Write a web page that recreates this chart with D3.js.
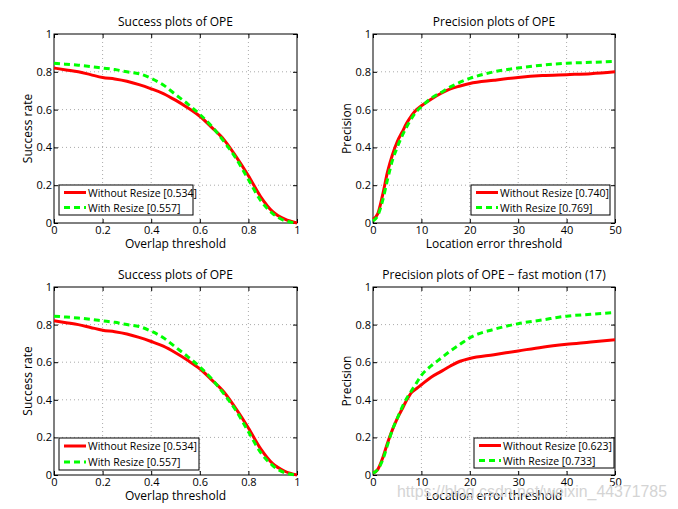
<!DOCTYPE html>
<html><head><meta charset="utf-8">
<script src="https://cdn.jsdelivr.net/npm/d3@7/dist/d3.min.js"></script>
<style>body{margin:0;background:#fff}svg{display:block}text{font-family:"Open Sans",sans-serif}</style>
</head><body><svg id="c" width="678" height="509"></svg>
<script>
// Success plots (overlap threshold)
const overlapX = [0,0.05,0.1,0.15,0.2,0.25,0.3,0.35,0.4,0.45,0.5,0.55,0.6,0.65,0.7,0.75,0.8,0.85,0.9,0.95,1];
const successWithout = [0.82,0.81,0.80,0.785,0.77,0.762,0.75,0.732,0.71,0.685,0.65,0.61,0.565,0.505,0.44,0.35,0.25,0.14,0.06,0.02,0];
const successWith = [0.845,0.84,0.835,0.828,0.82,0.812,0.80,0.79,0.765,0.73,0.68,0.63,0.575,0.51,0.43,0.34,0.23,0.12,0.05,0.012,0];
// Precision plots (location error threshold)
const errX = [0,1,2,3,4,5,6,7,8,9,10,12,14,16,18,20,25,30,35,40,45,50];
const precWithout = [0.02,0.05,0.15,0.27,0.36,0.43,0.48,0.53,0.57,0.60,0.62,0.655,0.685,0.71,0.725,0.738,0.755,0.77,0.78,0.785,0.79,0.80];
const precWith = [0.01,0.04,0.12,0.23,0.33,0.40,0.46,0.51,0.555,0.59,0.615,0.66,0.69,0.72,0.745,0.765,0.80,0.82,0.835,0.845,0.85,0.855];
const fastWithout = [0.01,0.03,0.09,0.17,0.24,0.30,0.35,0.40,0.44,0.46,0.48,0.52,0.55,0.58,0.605,0.62,0.64,0.66,0.68,0.695,0.707,0.72];
const fastWith = [0.01,0.03,0.08,0.16,0.24,0.30,0.36,0.41,0.45,0.49,0.53,0.58,0.62,0.66,0.695,0.73,0.775,0.805,0.825,0.845,0.855,0.865];
const yTicks = [0,0.2,0.4,0.6,0.8,1];
const overlapTicks = [0,0.2,0.4,0.6,0.8,1];
const errTicks = [0,10,20,30,40,50];
const seriesNames = ["Without Resize","With Resize"];

const panels = [
  {x0:54,x1:297,y0:34,y1:223,title:"Success plots of OPE",xl:"Overlap threshold",yl:"Success rate",xs:overlapX,dom:[0,1],xt:overlapTicks,a:successWithout,b:successWith,scores:["0.534","0.557"],leg:[59,185,193,215]},
  {x0:373,x1:615,y0:34,y1:223,title:"Precision plots of OPE",xl:"Location error threshold",yl:"Precision",xs:errX,dom:[0,50],xt:errTicks,a:precWithout,b:precWith,scores:["0.740","0.769"],leg:[471,185,610,215]},
  {x0:54,x1:297,y0:287,y1:475,title:"Success plots of OPE",xl:"Overlap threshold",yl:"Success rate",xs:overlapX,dom:[0,1],xt:overlapTicks,a:successWithout,b:successWith,scores:["0.534","0.557"],leg:[59,438,199,470]},
  {x0:373,x1:615,y0:287,y1:475,title:"Precision plots of OPE \u2212 fast motion (17)",xl:"Location error threshold",yl:"Precision",xs:errX,dom:[0,50],xt:errTicks,a:fastWithout,b:fastWith,scores:["0.623","0.733"],leg:[474,438,614,468]}
];

const svg = d3.select("#c");
panels.forEach(p=>{
  const x = d3.scaleLinear().domain(p.dom).range([p.x0,p.x1]);
  const y = d3.scaleLinear().domain([0,1]).range([p.y1,p.y0]);
  const g = svg.append("g");
  // grid
  g.selectAll(".gx").data(p.xt.slice(1,-1)).join("line")
    .attr("x1",d=>x(d)).attr("x2",d=>x(d)).attr("y1",p.y0).attr("y2",p.y1)
    .attr("stroke","#aaa").attr("stroke-width",1).attr("stroke-dasharray","1,3");
  g.selectAll(".gy").data(yTicks.slice(1,-1)).join("line")
    .attr("y1",d=>y(d)).attr("y2",d=>y(d)).attr("x1",p.x0).attr("x2",p.x1)
    .attr("stroke","#aaa").attr("stroke-width",1).attr("stroke-dasharray","1,3");
  // axes with inward ticks
  const ax = g.append("g").attr("transform",`translate(0,${p.y1})`)
    .call(d3.axisBottom(x).tickValues(p.xt).tickSize(-4).tickPadding(3).tickFormat(d3.format("~g")));
  const ay = g.append("g").attr("transform",`translate(${p.x0},0)`)
    .call(d3.axisLeft(y).tickValues(yTicks).tickSize(-4).tickPadding(2).tickFormat(d3.format("~g")));
  const axt = g.append("g").attr("transform",`translate(0,${p.y0})`)
    .call(d3.axisTop(x).tickValues(p.xt).tickSize(-4).tickFormat(""));
  const ayr = g.append("g").attr("transform",`translate(${p.x1},0)`)
    .call(d3.axisRight(y).tickValues(yTicks).tickSize(-4).tickFormat(""));
  [ax,ay,axt,ayr].forEach(a=>{a.select(".domain").remove();a.selectAll("text").attr("font-size",11).attr("fill","#000").style("font-family","'Open Sans',sans-serif");a.selectAll("line").attr("stroke","#000");});
  g.append("rect").attr("x",p.x0).attr("y",p.y0).attr("width",p.x1-p.x0).attr("height",p.y1-p.y0)
    .attr("fill","none").attr("stroke","#000").attr("stroke-width",1);
  // lines
  const line = d3.line().x((d,i)=>x(p.xs[i])).y(d=>y(d)).curve(d3.curveMonotoneX);
  g.append("path").datum(p.a).attr("d",line).attr("fill","none").attr("stroke","#ff0000").attr("stroke-width",3);
  g.append("path").datum(p.b).attr("d",line).attr("fill","none").attr("stroke","#00ff00").attr("stroke-width",3).attr("stroke-dasharray","6,4");
  // titles
  g.append("text").attr("x",(p.x0+p.x1)/2).attr("y",p.y0-8).attr("text-anchor","middle").attr("font-size",12).text(p.title);
  g.append("text").attr("x",(p.x0+p.x1)/2).attr("y",p.y1+25).attr("text-anchor","middle").attr("font-size",12).text(p.xl);
  g.append("text").attr("transform",`translate(${p.x0-22},${(p.y0+p.y1)/2}) rotate(-90)`).attr("text-anchor","middle").attr("font-size",12).text(p.yl);
  // legend
  const [lx0,ly0,lx1,ly1] = p.leg;
  const lg = g.append("g");
  lg.append("rect").attr("x",lx0).attr("y",ly0).attr("width",lx1-lx0).attr("height",ly1-ly0).attr("fill","#fff").attr("stroke","#000");
  const rowH = (ly1-ly0)/2;
  seriesNames.forEach((n,i)=>{
    const cy = ly0+rowH*(i+0.5);
    lg.append("line").attr("x1",lx0+5).attr("x2",lx0+27).attr("y1",cy).attr("y2",cy)
      .attr("stroke",i===0?"#ff0000":"#00ff00").attr("stroke-width",3).attr("stroke-dasharray",i===0?null:"6,4");
    lg.append("text").attr("x",lx0+29).attr("y",cy+4).attr("font-size",10.5).text(`${n} [${p.scores[i]}]`);
  });
});
svg.append("text").attr("x",397).attr("y",497).attr("font-size",17).attr("fill","#d4d4d4")
  .attr("textLength",270).attr("lengthAdjust","spacingAndGlyphs")
  .style("font-family","'Liberation Sans',Arial,sans-serif").text("https://blog.csdn.net/weixin_44371785");
</script></body></html>
